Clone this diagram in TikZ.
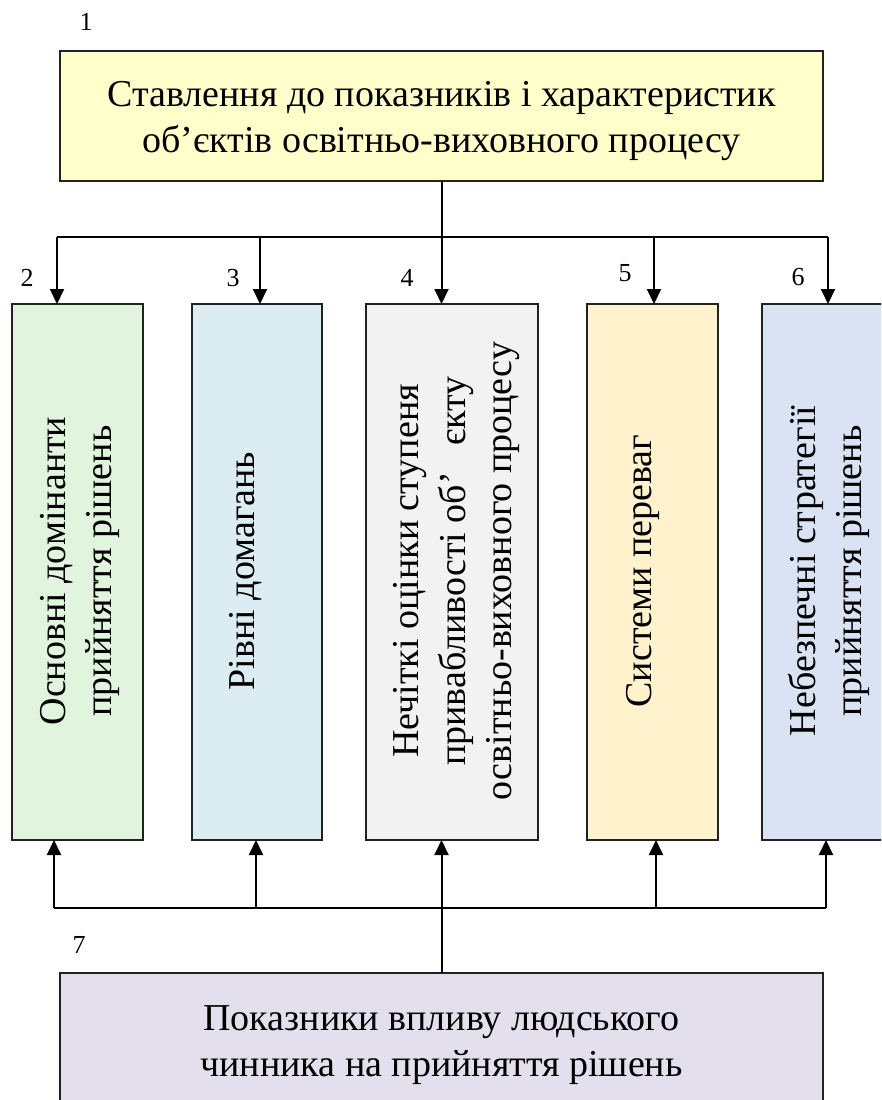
\documentclass[tikz,border=0pt]{standalone}
\usepackage{fontspec}
\setmainfont{Liberation Serif}
\usetikzlibrary{arrows.meta}
\definecolor{cYellow}{HTML}{FFFFCC}
\definecolor{cGreen}{HTML}{E1F5DE}
\definecolor{cBlue}{HTML}{DBEDF3}
\definecolor{cGray}{HTML}{F2F2F2}
\definecolor{cOrange}{HTML}{FFF2CC}
\definecolor{cSteel}{HTML}{DAE3F3}
\definecolor{cLilac}{HTML}{E4DFEC}
\definecolor{cEdge}{HTML}{222222}
\begin{document}
\begin{tikzpicture}[x=1pt,y=-1pt,
  box/.style={draw=cEdge, line width=2.6pt, inner sep=0pt, outer sep=0pt},
  wide/.style={box, minimum width=763pt},
  column/.style={box, minimum height=536pt},
  btext/.style={align=center, font=\fontsize{38}{46.5}\selectfont, inner sep=0pt},
  vtext/.style={btext, rotate=90},
  num/.style={font=\fontsize{26}{30}\selectfont, inner sep=0pt},
  link/.style={line width=2pt, black},
  arr/.style={link, -{Triangle[length=15pt,width=14pt]}}
]
\useasboundingbox (0,0) rectangle (881,1100);
\clip (0,0) rectangle (881,1100);

% top block
\node[wide, fill=cYellow, minimum height=130pt] (b1) at (441.5,116) {};
\node[btext] at (441.5,121) {Ставлення до показників і характеристик\\об’єктів освітньо-виховного процесу};

% column blocks
\node[column, fill=cGreen,  minimum width=131pt] (b2) at (77.5,572) {};
\node[column, fill=cBlue,   minimum width=130pt] (b3) at (257,572) {};
\node[column, fill=cGray,   minimum width=172pt] (b4) at (452,572) {};
\node[column, fill=cOrange, minimum width=131pt] (b5) at (652.5,572) {};
\node[column, fill=cSteel,  minimum width=131pt] (b6) at (827.5,572) {};

\node[vtext] at (80,571) {Основні домінанти\\прийняття рішень};
\node[vtext] at (246,571) {Рівні домагань};
\node[vtext] at (457,571) {Нечіткі оцінки ступеня\\привабливості об’\hspace{0.7em}єкту\\освітньо-виховного процесу};
\node[vtext] at (643,571) {Системи переваг};
\node[vtext] at (829,571) {Небезпечні стратегії\\прийняття рішень};

% bottom block
\node[wide, fill=cLilac, minimum height=136pt] (b7) at (441.5,1041) {};
\node[btext] at (441.5,1045) {Показники впливу людського\\чинника на прийняття рішень};

% block numbers
\node[num] (n1) at (86,22) {1};
\node[num] (n2) at (27,278) {2};
\node[num] (n3) at (233,278) {3};
\node[num] (n4) at (407,278) {4};
\node[num] (n5) at (625,273) {5};
\node[num] (n6) at (798,277) {6};
\node[num] (n7) at (79,945) {7};

% distribution bus from the top block
\coordinate (tA) at (57,237);
\coordinate (tB) at (260,237);
\coordinate (tD) at (654,237);
\coordinate (tE) at (828,237);
\draw[link] (tA) -- (tE);
\draw[arr] (b1.south) -- (b1.south |- b4.north);
\draw[arr] (tA) -- (tA |- b2.north);
\draw[arr] (tB) -- (tB |- b3.north);
\draw[arr] (tD) -- (tD |- b5.north);
\draw[arr] (tE) -- (tE |- b6.north);

% collecting bus from the bottom block
\coordinate (uA) at (54,908);
\coordinate (uB) at (256,908);
\coordinate (uD) at (656,908);
\coordinate (uE) at (826,908);
\draw[link] (uA) -- (uE);
\draw[arr] (b7.north) -- (b7.north |- b4.south);
\draw[arr] (uA) -- (uA |- b2.south);
\draw[arr] (uB) -- (uB |- b3.south);
\draw[arr] (uD) -- (uD |- b5.south);
\draw[arr] (uE) -- (uE |- b6.south);
\end{tikzpicture}
\end{document}
